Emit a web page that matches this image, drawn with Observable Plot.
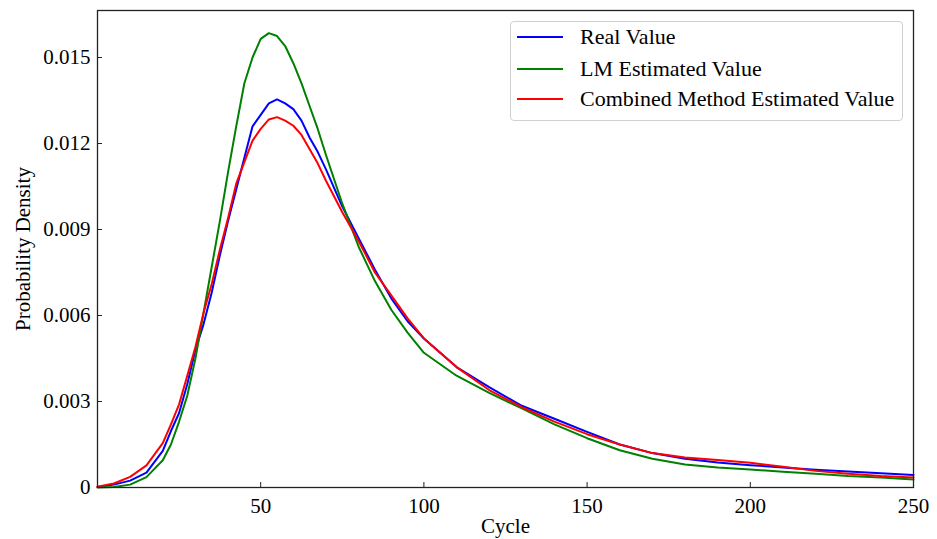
<!DOCTYPE html>
<html>
<head>
<meta charset="utf-8">
<script src="https://cdn.jsdelivr.net/npm/d3@7"></script>
<script src="https://cdn.jsdelivr.net/npm/@observablehq/plot@0.6"></script>
<style>
  html, body { margin: 0; padding: 0; background: #fff; }
  #wrap { position: relative; width: 937px; height: 539px; font-family: "Liberation Serif", "Times New Roman", serif; }
  #legend { position: absolute; box-sizing: border-box; background: rgba(255,255,255,0.85);
            border: 1px solid #d0d0d0; border-radius: 4px; font-size: 22px; color: #000; }
  .row { position: absolute; height: 24px; line-height: 24px; white-space: nowrap; }
  .sw { position: absolute; height: 2px; }
</style>
</head>
<body>
<div id="wrap"></div>
<script>
const cycles = [0, 5, 10, 15, 20, 22.5, 25, 27.5, 30, 32.5, 35, 37.5, 40, 42.5, 45, 47.5, 50, 52.5, 55, 57.5, 60, 62.5, 65, 67.5, 70, 75, 80, 85, 90, 95, 100, 110, 120, 130, 140, 150, 160, 170, 180, 190, 200, 210, 220, 230, 240, 250];
const realValue = [0.00002, 0.0001, 0.00024, 0.00052, 0.00128, 0.00197, 0.0026, 0.0036, 0.0048, 0.0057, 0.0068, 0.0081, 0.0093, 0.0104, 0.0115, 0.0126, 0.0130, 0.0134, 0.01354, 0.0134, 0.0132, 0.0128, 0.0122, 0.0117, 0.0111, 0.0098, 0.0087, 0.0076, 0.0066, 0.0058, 0.0052, 0.0042, 0.0035, 0.00285, 0.0024, 0.00194, 0.0015, 0.0012, 0.001, 0.00087, 0.00078, 0.0007, 0.00062, 0.00056, 0.0005, 0.00044];
const lmValue = [0, 0.00002, 0.0001, 0.00036, 0.00095, 0.0015, 0.0023, 0.0032, 0.0045, 0.0061, 0.0077, 0.0093, 0.0110, 0.0126, 0.0141, 0.0150, 0.01565, 0.01585, 0.01575, 0.0154, 0.0148, 0.0141, 0.0133, 0.0125, 0.0116, 0.0099, 0.0084, 0.0072, 0.0062, 0.0054, 0.0047, 0.0039, 0.0033, 0.00276, 0.0022, 0.00172, 0.0013, 0.001, 0.0008, 0.0007, 0.00063, 0.00055, 0.00048, 0.0004, 0.00035, 0.00028];
const combinedValue = [0.00003, 0.00014, 0.00037, 0.00077, 0.00155, 0.0022, 0.0029, 0.0039, 0.0049, 0.0061, 0.0071, 0.0083, 0.0094, 0.0106, 0.01135, 0.0121, 0.01251, 0.01284, 0.01292, 0.0128, 0.01262, 0.0123, 0.0118, 0.0113, 0.0107, 0.0096, 0.0086, 0.0075, 0.0067, 0.0059, 0.0052, 0.0042, 0.0034, 0.0028, 0.0023, 0.00186, 0.0015, 0.0012, 0.00105, 0.00096, 0.00086, 0.00072, 0.00058, 0.00048, 0.0004, 0.00035];
const seriesNames = ["Real Value", "LM Estimated Value", "Combined Method Estimated Value"];
const seriesColors = ["#0000ff", "#008000", "#ff0000"];
const xTicks = [50, 100, 150, 200, 250];
const yTicks = [0, 0.003, 0.006, 0.009, 0.012, 0.015];

const seriesValues = [realValue, lmValue, combinedValue];
const data = [];
seriesNames.forEach((name, i) => {
  cycles.forEach((c, j) => data.push({cycle: c, value: seriesValues[i][j], series: name}));
});

const chart = Plot.plot({
  width: 937,
  height: 539,
  marginLeft: 97,
  marginRight: 24,
  marginTop: 10,
  marginBottom: 52,
  style: {fontFamily: '"Liberation Serif", "Times New Roman", serif', fontSize: "21px", color: "#000", background: "#fff"},
  x: {domain: [0, 250]},
  y: {domain: [0, 0.01664]},
  color: {domain: seriesNames, range: seriesColors},
  marks: [
    Plot.line(data, {x: "cycle", y: "value", stroke: "series", z: "series", strokeWidth: 2}),
    Plot.frame({stroke: "#222", strokeWidth: 1.3}),
    Plot.axisX(xTicks, {tickSize: -5, tickPadding: 16, fontSize: 21, label: "Cycle", labelAnchor: "center", labelArrow: "none", labelOffset: 45, stroke: "#222"}),
    Plot.axisY(yTicks, {tickSize: -5, tickPadding: 12, fontSize: 21, tickFormat: d => d === 0 ? "0" : d.toFixed(3), label: "Probability Density", labelAnchor: "center", labelArrow: "none", labelOffset: 82, stroke: "#222"})
  ]
});
const wrap = document.getElementById("wrap");
wrap.appendChild(chart);

const legend = document.createElement("div");
legend.id = "legend";
legend.style.left = "510px";
legend.style.top = "21px";
legend.style.width = "393px";
legend.style.height = "100px";
const rowTops = [3, 35, 65];
seriesNames.forEach((name, i) => {
  const sw = document.createElement("div");
  sw.className = "sw";
  sw.style.left = "6px";
  sw.style.width = "46px";
  sw.style.top = (rowTops[i] + 11) + "px";
  sw.style.background = seriesColors[i];
  legend.appendChild(sw);
  const row = document.createElement("div");
  row.className = "row";
  row.style.left = "69px";
  row.style.top = rowTops[i] + "px";
  row.textContent = name;
  legend.appendChild(row);
});
wrap.appendChild(legend);
</script>
</body>
</html>
